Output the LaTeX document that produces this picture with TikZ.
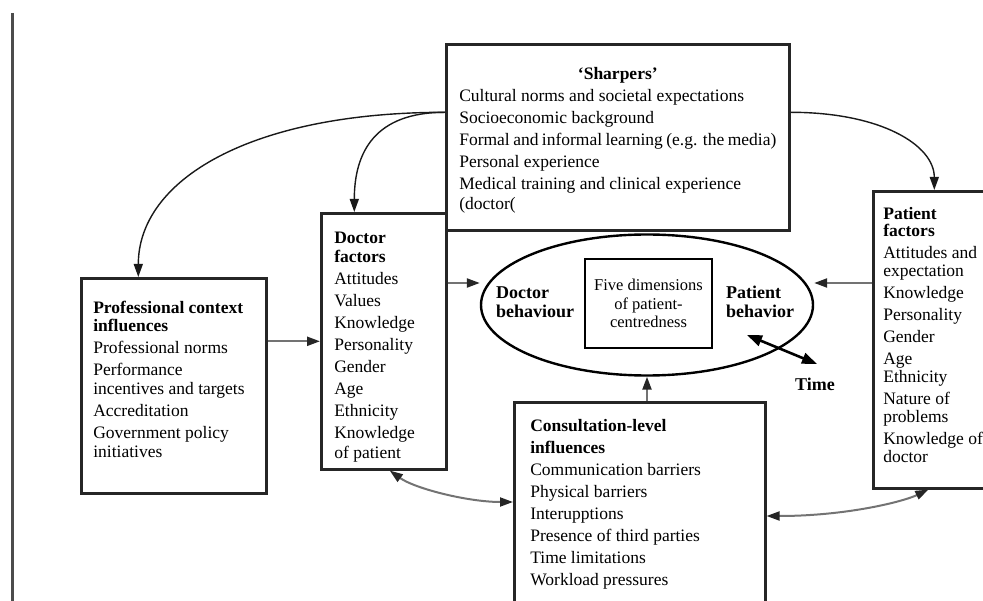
\documentclass[tikz,border=0pt]{standalone}
\usepackage{fontspec}
\setmainfont{Liberation Serif}
\usetikzlibrary{positioning, arrows.meta, shapes.geometric, shadows}

\tikzset{
  box/.style={draw=black!85, line width=2.6pt, fill=white, anchor=north west, inner ysep=0pt,
    drop shadow={shadow xshift=1pt, shadow yshift=-2pt, fill=black!40, opacity=.8}},
  curve/.style={-{Triangle[length=13pt,width=9pt]}, line width=1.4pt, black!90},
  link/.style={-{Triangle[length=13pt,width=9pt,color=black!85]}, line width=2.2pt, black!55},
  twoway/.style={{Triangle[length=13pt,width=9pt,color=black!85]}-{Triangle[length=13pt,width=9pt,color=black!85]}, line width=2pt, black!55},
  timearrow/.style={{Triangle[length=15pt,width=11pt]}-{Triangle[length=15pt,width=11pt]}, line width=2.6pt, black},
  lbl/.style={inner sep=0pt, align=left, font=\fontsize{18}{18.5}\selectfont\bfseries},
}

\begin{document}
\begin{tikzpicture}[x=1pt, y=-1pt, font=\fontsize{17.5}{22}\selectfont]
  \useasboundingbox (0,0) rectangle (983,601);
  \clip (0,0) rectangle (983,601);

  % margin rule
  \draw[line width=3pt, black!70] (12,13) -- (12,601);

  % boxes
  \node[box, inner xsep=13pt] (sharp) at (445,43) {\parbox[t][186pt][t]{317pt}{\vspace*{23pt}%
    \makebox[\linewidth]{\textbf{‘Sharpers’}}\\
    Cultural norms and societal expectations\\
    Socioeconomic background\\
    Formal and informal learning (e.g. the media)\\
    Personal experience\\
    Medical training and clinical experience\\[-2pt]
    (doctor(}};
  \node[box, inner xsep=13pt] (doc) at (320,212) {\parbox[t][256pt][t]{99pt}{\vspace*{19pt}%
    \textbf{Doctor}\\[-3pt]
    \textbf{factors}\\
    Attitudes\\
    Values\\
    Knowledge\\
    Personality\\
    Gender\\
    Age\\
    Ethnicity\\
    Knowledge\\[-2pt]
    of patient}};
  \node[box, inner xsep=12pt] (prof) at (80,277) {\parbox[t][215pt][t]{161pt}{\vspace*{23pt}%
    \textbf{Professional context}\\[-4pt]
    \textbf{influences}\\
    Professional norms\\
    Performance\\[-3pt]
    incentives and targets\\
    Accreditation\\
    Government policy\\[-3pt]
    initiatives}};
  \node[box, inner xsep=10pt] (pat) at (872,190) {\parbox[t][297pt][t]{110pt}{\vspace*{16pt}%
    \textbf{Patient}\\[-5pt]
    \textbf{factors}\\
    Attitudes and\\[-4pt]
    expectation\\
    Knowledge\\
    Personality\\
    Gender\\
    Age\\[-4pt]
    Ethnicity\\
    Nature of\\[-4pt]
    problems\\
    Knowledge of\\[-4pt]
    doctor}};
  \node[box, inner xsep=16pt] (cons) at (513,401) {\parbox[t][259pt][t]{219pt}{\vspace*{17pt}%
    \textbf{Consultation-level}\\
    \textbf{influences}\\
    Communication barriers\\
    Physical barriers\\
    Interupptions\\
    Presence of third parties\\
    Time limitations\\
    Workload pressures}};

  % centre
  \node[draw, ellipse, line width=2.4pt, minimum width=332pt, minimum height=141pt, inner sep=0pt] (ell) at (647,305) {};
  \node[draw, line width=2.4pt, minimum width=127pt, minimum height=89pt, align=center,
    font=\fontsize{16.5}{18.5}\selectfont] (dims) at (648.5,303.5) {Five dimensions\\of patient-\\centredness};
  \node[lbl, anchor=west] (docbeh) at (496,302) {Doctor\\behaviour};
  \node[lbl, anchor=west] (patbeh) at (726,302) {Patient\\behavior};
  \node[lbl, anchor=base west] (time) at (795,391) {Time};
  \coordinate (ta) at (747,335);
  \coordinate (tb) at (817,364);
  \coordinate (midrow) at (0,283);

  % shapers arrows
  \draw[curve] ([yshift=25pt]sharp.west) .. controls +(-195,0) and +(0,-97) .. ([xshift=-35.5pt]prof.north);
  \draw[curve] ([yshift=25pt]sharp.west) .. controls +(-70,0) and +(0,-60) .. ([xshift=-29.5pt]doc.north);
  \draw[curve] ([yshift=25pt]sharp.east) .. controls +(90,0) and +(0,-45) .. ([xshift=-4pt]pat.north);

  % straight links
  \draw[link] (prof.east |- doc.west) -- (doc.west);
  \draw[link] (doc.east |- midrow) -- (ell.west |- midrow);
  \draw[link] (pat.west |- midrow) -- (ell.east |- midrow);
  \draw[link] (ell.south |- cons.north) -- (ell.south);

  % two-way links
  \draw[twoway] ([xshift=6pt]doc.south) .. controls +(25,18) and +(-45,0) .. ([yshift=-101pt]cons.north west);
  \draw[twoway] ([yshift=-115pt]cons.north east) .. controls +(80,0) and +(-25,12) .. ([xshift=-10pt]pat.south);
  \draw[timearrow] (ta) -- (tb);
\end{tikzpicture}
\end{document}
